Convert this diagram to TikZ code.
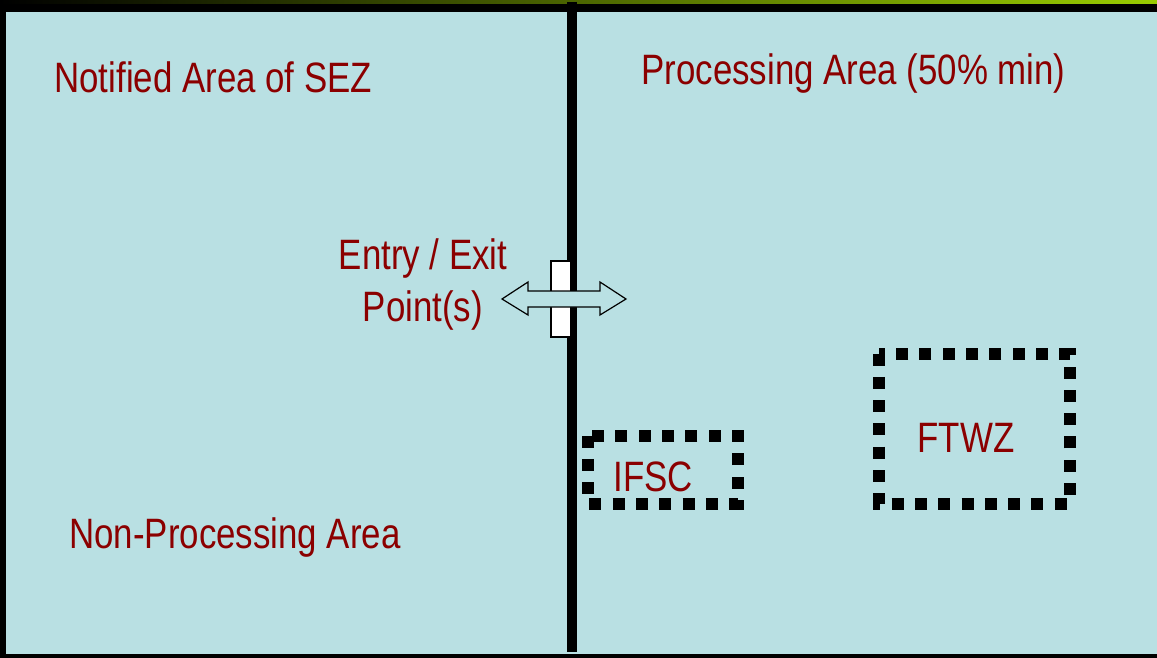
\documentclass[tikz,border=0pt]{standalone}
\usepackage{fontspec}
\newfontfamily\narrowsans{Liberation Sans}[FakeStretch=0.82]
\definecolor{sezblue}{RGB}{185,224,227}
\definecolor{sezred}{RGB}{139,0,0}
\definecolor{sezgreen}{RGB}{153,204,0}

\begin{document}
\begin{tikzpicture}[x=0.5pt, y=-0.5pt, line join=miter,
				lbl/.style={text=sezred, inner sep=0, font=\narrowsans\fontsize{21.25}{26}\selectfont},
				zonebox/.style={line width=6pt, dash pattern=on 6pt off 5.65pt}]
				\useasboundingbox (0,0) rectangle (1157,658);
				
				% frame and area
				\fill[black] (0,0) rectangle (1157,658);
				\shade[left color=black, right color=sezgreen] (0,0) rectangle (1157,4);
				\fill[sezblue] (6,12) rectangle (1157,654);
				
				\path
				(572,2) coordinate (T)
				(572,652) coordinate (B);
				\draw[line width=5pt] (T)--(B);
				
				% gate and arrow
				\draw[fill=white, line width=0.6pt] (551,261) rectangle (571,337);
				\draw[fill=sezblue, line width=0.6pt]
				(502,299)--(528,282)--(528,291)--(600,291)--(600,282)--(626,299)
				--(600,315)--(600,307)--(528,307)--(528,315)--cycle;
				
				% zones
				\draw[zonebox] (587.5,435.5) rectangle (737.5,503.5);
				\draw[zonebox] (878.5,353.5) rectangle (1069.5,503.5);
				
				\node[lbl, anchor=base west] (notified) at (54,93) {Notified Area of SEZ};
				\node[lbl, anchor=base west] (proc) at (641,85) {Processing Area (50\% min)};
				\node[lbl, anchor=base west] (nonproc) at (69,548) {Non-Processing Area};
				\node[lbl, anchor=base, align=center] (entry) at (423,321) {Entry / Exit\\Point(s)};
				\node[lbl, anchor=base] (ifsc) at (653,491) {IFSC};
				\node[lbl, anchor=base] (ftwz) at (966,452) {FTWZ};
			\end{tikzpicture}
\end{document}
